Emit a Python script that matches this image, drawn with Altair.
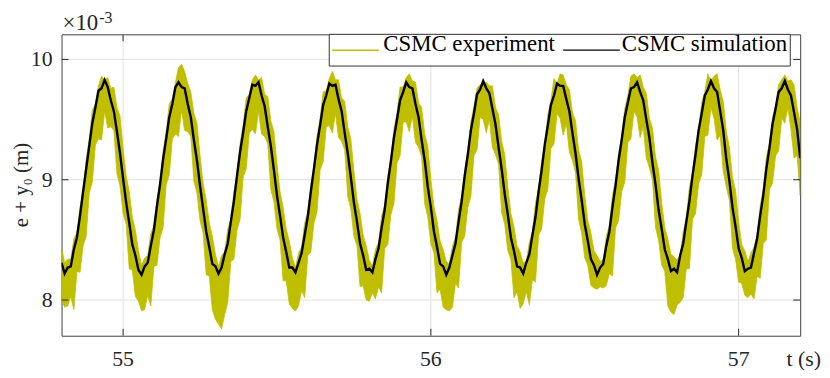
import altair as alt
import pandas as pd

# ---------------- data (values in units of 1e-3 m) ----------------
t = [
    54.80, 54.81, 54.82, 54.83, 54.84, 54.85, 54.86, 54.87, 54.88, 54.89,
    54.90, 54.91, 54.92, 54.93, 54.94, 54.95, 54.96, 54.97, 54.98, 54.99,
    55.00, 55.01, 55.02, 55.03, 55.04, 55.05, 55.06, 55.07, 55.08, 55.09,
    55.10, 55.11, 55.12, 55.13, 55.14, 55.15, 55.16, 55.17, 55.18, 55.19,
    55.20, 55.21, 55.22, 55.23, 55.24, 55.25, 55.26, 55.27, 55.28, 55.29,
    55.30, 55.31, 55.32, 55.33, 55.34, 55.35, 55.36, 55.37, 55.38, 55.39,
    55.40, 55.41, 55.42, 55.43, 55.44, 55.45, 55.46, 55.47, 55.48, 55.49,
    55.50, 55.51, 55.52, 55.53, 55.54, 55.55, 55.56, 55.57, 55.58, 55.59,
    55.60, 55.61, 55.62, 55.63, 55.64, 55.65, 55.66, 55.67, 55.68, 55.69,
    55.70, 55.71, 55.72, 55.73, 55.74, 55.75, 55.76, 55.77, 55.78, 55.79,
    55.80, 55.81, 55.82, 55.83, 55.84, 55.85, 55.86, 55.87, 55.88, 55.89,
    55.90, 55.91, 55.92, 55.93, 55.94, 55.95, 55.96, 55.97, 55.98, 55.99,
    56.00, 56.01, 56.02, 56.03, 56.04, 56.05, 56.06, 56.07, 56.08, 56.09,
    56.10, 56.11, 56.12, 56.13, 56.14, 56.15, 56.16, 56.17, 56.18, 56.19,
    56.20, 56.21, 56.22, 56.23, 56.24, 56.25, 56.26, 56.27, 56.28, 56.29,
    56.30, 56.31, 56.32, 56.33, 56.34, 56.35, 56.36, 56.37, 56.38, 56.39,
    56.40, 56.41, 56.42, 56.43, 56.44, 56.45, 56.46, 56.47, 56.48, 56.49,
    56.50, 56.51, 56.52, 56.53, 56.54, 56.55, 56.56, 56.57, 56.58, 56.59,
    56.60, 56.61, 56.62, 56.63, 56.64, 56.65, 56.66, 56.67, 56.68, 56.69,
    56.70, 56.71, 56.72, 56.73, 56.74, 56.75, 56.76, 56.77, 56.78, 56.79,
    56.80, 56.81, 56.82, 56.83, 56.84, 56.85, 56.86, 56.87, 56.88, 56.89,
    56.90, 56.91, 56.92, 56.93, 56.94, 56.95, 56.96, 56.97, 56.98, 56.99,
    57.00, 57.01, 57.02, 57.03, 57.04, 57.05, 57.06, 57.07, 57.08, 57.09,
    57.10, 57.11, 57.12, 57.13, 57.14, 57.15, 57.16, 57.17, 57.18, 57.19,
    57.20,
]

sim = [
    8.31, 8.22, 8.27, 8.28, 8.42, 8.52, 8.70, 8.90, 9.09, 9.28,
    9.47, 9.60, 9.74, 9.76, 9.83, 9.77, 9.66, 9.57, 9.40, 9.22,
    9.01, 8.81, 8.64, 8.46, 8.37, 8.25, 8.21, 8.28, 8.31, 8.45,
    8.58, 8.78, 8.96, 9.17, 9.34, 9.52, 9.63, 9.77, 9.81, 9.77,
    9.76, 9.63, 9.52, 9.33, 9.16, 8.95, 8.76, 8.57, 8.44, 8.30,
    8.28, 8.22, 8.27, 8.38, 8.47, 8.65, 8.82, 9.03, 9.23, 9.39,
    9.57, 9.68, 9.79, 9.78, 9.81, 9.70, 9.61, 9.44, 9.28, 9.08,
    8.87, 8.70, 8.52, 8.40, 8.27, 8.27, 8.23, 8.31, 8.39, 8.54,
    8.69, 8.90, 9.09, 9.29, 9.45, 9.62, 9.70, 9.80, 9.78, 9.79,
    9.67, 9.57, 9.39, 9.22, 9.02, 8.81, 8.65, 8.47, 8.37, 8.25,
    8.26, 8.23, 8.34, 8.43, 8.60, 8.75, 8.97, 9.15, 9.35, 9.50,
    9.66, 9.73, 9.81, 9.77, 9.76, 9.63, 9.52, 9.33, 9.16, 8.94,
    8.77, 8.57, 8.44, 8.30, 8.28, 8.21, 8.27, 8.37, 8.47, 8.65,
    8.82, 9.03, 9.21, 9.41, 9.55, 9.71, 9.75, 9.82, 9.76, 9.72,
    9.59, 9.46, 9.27, 9.09, 8.88, 8.71, 8.52, 8.41, 8.28, 8.27,
    8.22, 8.31, 8.38, 8.54, 8.69, 8.90, 9.08, 9.29, 9.45, 9.62,
    9.70, 9.80, 9.78, 9.78, 9.67, 9.57, 9.39, 9.22, 9.01, 8.83,
    8.63, 8.49, 8.34, 8.29, 8.21, 8.27, 8.30, 8.45, 8.57, 8.77,
    8.95, 9.16, 9.33, 9.52, 9.64, 9.76, 9.77, 9.81, 9.73, 9.66,
    9.50, 9.35, 9.14, 8.96, 8.75, 8.59, 8.42, 8.34, 8.24, 8.26,
    8.23, 8.37, 8.47, 8.65, 8.82, 9.03, 9.21, 9.41, 9.55, 9.70,
    9.75, 9.82, 9.76, 9.73, 9.57, 9.41, 9.17, 8.99, 8.77, 8.61,
    8.43, 8.35, 8.24, 8.26, 8.27, 8.39, 8.51, 8.70, 8.87, 9.09,
    9.26, 9.46, 9.59, 9.73, 9.76, 9.82, 9.75, 9.70, 9.56, 9.42,
    9.18,
]

exp_hi = [
    8.44, 8.31, 8.34, 8.34, 8.51, 8.56, 8.77, 8.90, 9.17, 9.34,
    9.58, 9.63, 9.78, 9.86, 9.83, 9.85, 9.76, 9.77, 9.60, 9.53,
    9.26, 9.03, 8.90, 8.69, 8.58, 8.41, 8.29, 8.35, 8.37, 8.55,
    8.62, 8.84, 8.97, 9.24, 9.40, 9.63, 9.67, 9.81, 9.93, 9.96,
    9.90, 9.80, 9.73, 9.55, 9.47, 9.20, 8.97, 8.83, 8.64, 8.53,
    8.38, 8.28, 8.37, 8.40, 8.59, 8.67, 8.90, 9.04, 9.30, 9.45,
    9.68, 9.71, 9.83, 9.87, 9.83, 9.85, 9.71, 9.69, 9.49, 9.40,
    9.13, 8.90, 8.77, 8.59, 8.49, 8.35, 8.27, 8.39, 8.44, 8.64,
    8.73, 8.96, 9.10, 9.36, 9.51, 9.73, 9.74, 9.84, 9.90, 9.83,
    9.83, 9.68, 9.65, 9.44, 9.34, 9.07, 8.84, 8.72, 8.54, 8.45,
    8.33, 8.28, 8.42, 8.48, 8.70, 8.79, 9.03, 9.17, 9.42, 9.56,
    9.77, 9.77, 9.85, 9.88, 9.82, 9.81, 9.64, 9.60, 9.38, 9.28,
    9.00, 8.78, 8.66, 8.49, 8.42, 8.32, 8.30, 8.45, 8.52, 8.75,
    8.86, 9.09, 9.23, 9.48, 9.61, 9.76, 9.79, 9.80, 9.81, 9.78,
    9.78, 9.60, 9.54, 9.32, 9.21, 8.94, 8.72, 8.61, 8.45, 8.40,
    8.31, 8.32, 8.48, 8.57, 8.81, 8.92, 9.16, 9.29, 9.54, 9.66,
    9.84, 9.80, 9.88, 9.87, 9.79, 9.75, 9.56, 9.49, 9.25, 9.15,
    8.87, 8.66, 8.56, 8.41, 8.37, 8.32, 8.34, 8.53, 8.62, 8.87,
    8.99, 9.22, 9.35, 9.59, 9.70, 9.86, 9.88, 9.85, 9.87, 9.77,
    9.72, 9.51, 9.43, 9.19, 9.08, 8.81, 8.60, 8.51, 8.38, 8.36,
    8.33, 8.38, 8.57, 8.68, 8.94, 9.05, 9.29, 9.41, 9.64, 9.73,
    9.88, 9.82, 9.86, 9.88, 9.75, 9.65, 9.40, 9.27, 9.02, 8.91,
    8.65, 8.46, 8.41, 8.32, 8.39, 8.44, 8.54, 8.78, 8.92, 9.19,
    9.30, 9.52, 9.61, 9.79, 9.83, 9.87, 9.82, 9.83, 9.79, 9.60,
    9.48,
]

exp_lo = [
    8.01, 7.94, 7.95, 8.03, 7.92, 8.24, 8.23, 8.45, 8.53, 8.89,
    8.98, 9.29, 9.34, 9.33, 9.57, 9.43, 9.44, 9.41, 9.05, 8.95,
    8.72, 8.63, 8.26, 8.25, 8.03, 7.99, 7.91, 7.92, 8.04, 7.95,
    8.28, 8.29, 8.52, 8.60, 8.96, 9.04, 9.34, 9.38, 9.36, 9.58,
    9.41, 9.40, 9.36, 8.99, 8.89, 8.66, 8.56, 8.21, 8.20, 7.92,
    7.84, 7.80, 7.76, 7.88, 7.98, 8.32, 8.34, 8.58, 8.67, 9.02,
    9.09, 9.39, 9.42, 9.38, 9.57, 9.38, 9.36, 9.30, 8.92, 8.82,
    8.59, 8.50, 8.16, 8.16, 7.97, 7.93, 7.91, 7.95, 8.08, 8.02,
    8.37, 8.40, 8.64, 8.73, 9.08, 9.15, 9.44, 9.45, 9.39, 9.55,
    9.35, 9.32, 9.25, 8.86, 8.76, 8.53, 8.45, 8.11, 8.12, 8.00,
    7.99, 8.06, 8.01, 8.11, 8.06, 8.43, 8.46, 8.71, 8.80, 9.14,
    9.20, 9.48, 9.48, 9.40, 9.53, 9.31, 9.27, 9.19, 8.80, 8.69,
    8.47, 8.39, 8.06, 8.09, 7.94, 7.92, 7.91, 7.94, 8.14, 8.10,
    8.48, 8.53, 8.77, 8.86, 9.20, 9.25, 9.52, 9.50, 9.39, 9.50,
    9.27, 9.21, 9.13, 8.73, 8.63, 8.41, 8.34, 8.02, 8.07, 7.93,
    7.97, 8.07, 7.96, 8.17, 8.15, 8.54, 8.59, 8.84, 8.92, 9.26,
    9.30, 9.55, 9.51, 9.37, 9.47, 9.23, 9.16, 9.06, 8.67, 8.56,
    8.35, 8.29, 8.12, 8.10, 8.09, 8.11, 8.10, 8.12, 8.22, 8.20,
    8.60, 8.66, 8.90, 8.98, 9.31, 9.34, 9.57, 9.52, 9.35, 9.44,
    9.18, 9.10, 9.00, 8.60, 8.50, 8.29, 8.24, 7.95, 7.90, 7.88,
    7.96, 7.98, 8.02, 8.26, 8.26, 8.67, 8.72, 8.97, 9.04, 9.36,
    9.37, 9.60, 9.51, 9.33, 9.37, 9.07, 8.94, 8.83, 8.43, 8.34,
    8.15, 8.14, 8.04, 8.02, 8.05, 8.01, 8.20, 8.18, 8.47, 8.50,
    8.92, 8.97, 9.20, 9.24, 9.51, 9.47, 9.60, 9.42, 9.18, 9.20,
    8.87,
]

x_ticks = [55, 56, 57]
y_ticks = [8, 9, 10]
legend_labels = ["CSMC experiment", "CSMC simulation"]
series_colors = ["#BFBF00", "#000000"]
x_title = "t (s)"
y_title = "e + y\u2080 (m)"

# ---------------- styling ----------------
W, H = 745, 304
FONT = "Liberation Serif"
AX = "#262626"
GRID = "#e2e2e2"
TICK = 7

df = pd.DataFrame({"t": t, "sim": sim, "lo": exp_lo, "hi": exp_hi})
xscale = alt.Scale(domain=[54.8, 57.2], nice=False, zero=False)
yscale = alt.Scale(domain=[7.7033, 10.2085], nice=False, zero=False)

X = lambda f: alt.X(f, scale=xscale, axis=None)
Y = lambda f: alt.Y(f, scale=yscale, axis=None)

xt = alt.Chart(pd.DataFrame({"v": x_ticks}))
yt = alt.Chart(pd.DataFrame({"v": y_ticks}))
one = alt.Chart(pd.DataFrame({"a": [0]}))

# grid
xgrid = xt.mark_rule(color=GRID, strokeWidth=1).encode(
    x=X("v:Q"), y=alt.value(0), y2=alt.value(H))
ygrid = yt.mark_rule(color=GRID, strokeWidth=1).encode(
    y=Y("v:Q"), x=alt.value(0), x2=alt.value(W))

base = alt.Chart(df)
band = base.mark_area(
    color=series_colors[0], stroke=series_colors[0], strokeWidth=0.8,
    opacity=1, clip=True,
).encode(x=X("t:Q"), y=Y("lo:Q"), y2="hi:Q")

sim_line = base.mark_line(color=series_colors[1], strokeWidth=2.4, clip=True).encode(
    x=X("t:Q"), y=Y("sim:Q"))

# inward ticks on all four sides
tick_style = dict(color=AX, strokeWidth=1)
xb = xt.mark_rule(**tick_style).encode(x=X("v:Q"), y=alt.value(H), y2=alt.value(H - TICK))
xtop = xt.mark_rule(**tick_style).encode(x=X("v:Q"), y=alt.value(0), y2=alt.value(TICK))
yl = yt.mark_rule(**tick_style).encode(y=Y("v:Q"), x=alt.value(0), x2=alt.value(TICK))
yr = yt.mark_rule(**tick_style).encode(y=Y("v:Q"), x=alt.value(W), x2=alt.value(W - TICK))

# tick labels
xlab = xt.mark_text(font=FONT, fontSize=22, color=AX, align="center",
                    baseline="alphabetic").encode(
    x=X("v:Q"), y=alt.value(H + 31), text=alt.Text("v:Q", format="d"))
ylab = yt.mark_text(font=FONT, fontSize=22, color=AX, align="right",
                    baseline="middle").encode(
    y=Y("v:Q"), x=alt.value(-9), text=alt.Text("v:Q", format="d"))

# axis titles
xtitle = one.mark_text(font=FONT, fontSize=22, color=AX, align="right",
                       baseline="alphabetic").encode(
    x=alt.value(766), y=alt.value(H + 31), text=alt.value(x_title))
ytitle = one.mark_text(font=FONT, fontSize=21, color=AX, align="center",
                       baseline="alphabetic", angle=270).encode(
    x=alt.value(-34), y=alt.value(152), text=alt.value(y_title))

# exponent
exp_txt1 = one.mark_text(font=FONT, fontSize=23, color=AX, align="left",
                         baseline="alphabetic").encode(
    x=alt.value(1), y=alt.value(-4), text=alt.value("\u00d710"))
exp_txt2 = one.mark_text(font=FONT, fontSize=16, color=AX, align="left",
                         baseline="alphabetic").encode(
    x=alt.value(38), y=alt.value(-11), text=alt.value("-3"))

# legend
leg_box = one.mark_rect(fill="white", stroke="#333333", strokeWidth=1).encode(
    x=alt.value(270), x2=alt.value(735), y=alt.value(0), y2=alt.value(32))
leg_l1 = one.mark_rule(color=series_colors[0], strokeWidth=1.5).encode(
    x=alt.value(273), x2=alt.value(320), y=alt.value(16), y2=alt.value(16))
leg_t1 = one.mark_text(font=FONT, fontSize=23, color="black", align="left",
                       baseline="alphabetic").encode(
    x=alt.value(324.5), y=alt.value(16.5), text=alt.value(legend_labels[0]))
leg_l2 = one.mark_rule(color=series_colors[1], strokeWidth=1.2).encode(
    x=alt.value(506), x2=alt.value(563), y=alt.value(16), y2=alt.value(16))
leg_t2 = one.mark_text(font=FONT, fontSize=23, color="black", align="left",
                       baseline="alphabetic").encode(
    x=alt.value(565), y=alt.value(16.5), text=alt.value(legend_labels[1]))

chart = alt.layer(
    xgrid, ygrid, band, sim_line, xb, xtop, yl, yr, xlab, ylab, xtitle, ytitle,
    exp_txt1, exp_txt2, leg_box, leg_l1, leg_t1, leg_l2, leg_t2,
).properties(
    width=W, height=H,
    autosize=alt.AutoSizeParams(type="none"),
    padding={"left": 54, "top": 25, "right": 22, "bottom": 33},
    background="white",
).configure_view(stroke="#404040", strokeWidth=1)

chart.save("out.html", embed_options={"renderer": "svg", "actions": False})
